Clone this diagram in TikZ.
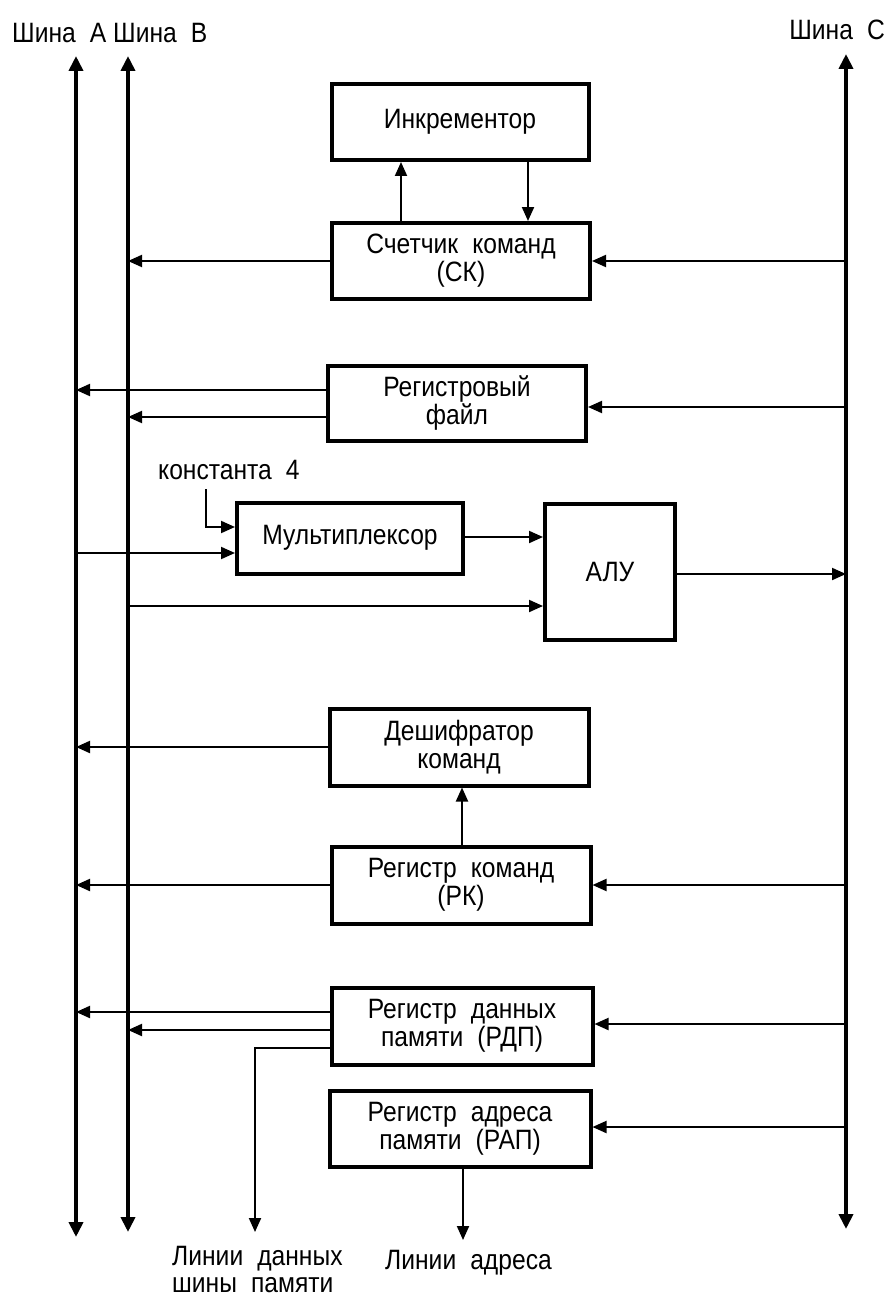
\documentclass[tikz,border=0pt]{standalone}
\usepackage{fontspec}
\setmainfont{Liberation Sans}[FakeStretch=0.88]
\usetikzlibrary{arrows.meta}
% diagram text: tall, slightly narrow glyphs with wide word spacing
\newcommand\diagfont{\fontsize{28}{28}\selectfont\spaceskip 0.5em plus 0.1em minus 0.05em\relax}
\begin{document}
\begin{tikzpicture}[x=1pt,y=-1pt,
  font=\diagfont,
  block/.style={draw,line width=4pt,align=center,inner sep=0pt},
  conn/.style={line width=2pt,-{Triangle[length=14pt,width=12pt]}},
  bus/.style={line width=4pt,{Triangle[length=15pt,width=14pt]}-{Triangle[length=15pt,width=14pt]}},
  lbl/.style={inner sep=0pt}]
\useasboundingbox (0,0) rectangle (893,1300);

% buses
\coordinate (At) at (76,56);   \coordinate (Ab) at (76,1237);
\coordinate (Bt) at (128,56);  \coordinate (Bb) at (128,1232);
\coordinate (Ct) at (846,54);  \coordinate (Cb) at (846,1229);
\draw[bus] (Ab) -- (At);
\draw[bus] (Bb) -- (Bt);
\draw[bus] (Cb) -- (Ct);
\node[lbl,anchor=base west] (la) at (12,43) {Шина А};
\node[lbl,anchor=base west] (lb) at (113,43) {Шина В};
\node[lbl,anchor=base east] (lc) at (885,40) {Шина С};

% blocks
\node[block,minimum width=257pt,minimum height=76pt] (inc) at (460,122) {Инкрементор};
\node[block,minimum width=258pt,minimum height=76pt] (sk) at (461,261) {Счетчик команд\\(СК)};
\node[block,minimum width=258pt,minimum height=75pt] (rf) at (457,403) {Регистровый\\файл};
\node[block,minimum width=226pt,minimum height=71pt] (mux) at (350,538) {Мультиплексор};
\node[block,minimum width=130pt,minimum height=136pt] (alu) at (610,572) {АЛУ};
\node[block,minimum width=259pt,minimum height=77pt] (dec) at (459,747) {Дешифратор\\команд};
\node[block,minimum width=259pt,minimum height=77pt] (rk) at (461,885) {Регистр команд\\(РК)};
\node[block,minimum width=261pt,minimum height=77pt] (rdp) at (462,1026) {Регистр данных\\памяти (РДП)};
\node[block,minimum width=261pt,minimum height=76pt] (rap) at (460,1129) {Регистр адреса\\памяти (РАП)};

% program counter and incrementer
\draw[conn] (sk.west) -- (sk.west -| Bt);
\draw[conn] (sk.east -| Ct) -- (sk.east);
\draw[conn] (401,0 |- sk.north) -- (401,0 |- inc.south);
\draw[conn] (528,0 |- inc.south) -- (528,0 |- sk.north);

% register file
\draw[conn] (rf.west |- 0,390) -- (At |- 0,390);
\draw[conn] (rf.west |- 0,417) -- (Bt |- 0,417);
\draw[conn] (Ct |- 0,407) -- (rf.east |- 0,407);

% multiplexer and ALU
\node[lbl,anchor=base west] (kon) at (158,479) {константа 4};
\coordinate (k0) at (206,489);
\draw[conn] (k0) |- (mux.west |- 0,527);
\draw[conn] (At |- 0,553) -- (mux.west |- 0,553);
\draw[conn] (mux.east |- 0,537) -- (alu.west |- 0,537);
\draw[conn] (Bt |- 0,606) -- (alu.west |- 0,606);
\draw[conn] (alu.east |- 0,574) -- (Ct |- 0,574);

% decoder and instruction register
\draw[conn] (dec.west) -- (dec.west -| At);
\draw[conn] (462,0 |- rk.north) -- (462,0 |- dec.south);
\draw[conn] (rk.west) -- (rk.west -| At);
\draw[conn] (rk.east -| Ct) -- (rk.east);

% memory data register
\draw[conn] (rdp.west |- 0,1012) -- (At |- 0,1012);
\draw[conn] (rdp.west |- 0,1030) -- (Bt |- 0,1030);
\coordinate (dl) at (255,1232);
\draw[conn] (rdp.west |- 0,1048) -| (dl);
\draw[conn] (Ct |- 0,1024) -- (rdp.east |- 0,1024);

% memory address register
\draw[conn] (Ct |- 0,1127) -- (rap.east |- 0,1127);
\coordinate (al) at (463,1240);
\draw[conn] (al |- rap.south) -- (al);

\node[lbl,anchor=base west] (ld) at (172,1265) {Линии данных};
\node[lbl,anchor=base west] (ld2) at (172,1292) {шины памяти};
\node[lbl,anchor=base west] (lad) at (385,1269) {Линии адреса};
\end{tikzpicture}
\end{document}
